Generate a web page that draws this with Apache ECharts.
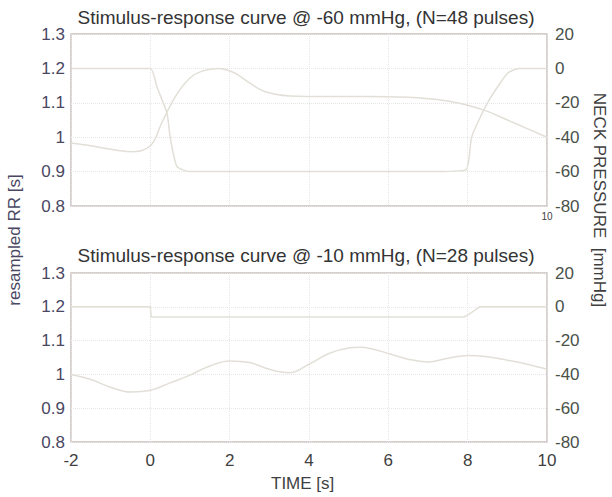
<!DOCTYPE html>
<html>
<head>
<meta charset="utf-8">
<script src="https://cdn.jsdelivr.net/npm/echarts@6/dist/echarts.min.js"></script>
<style>
  html, body { margin: 0; padding: 0; background: #fff; }
  #chart { width: 612px; height: 497px; }
</style>
</head>
<body>
<div id="chart"></div>
<script>
// data
var titles = ['Stimulus-response curve @ -60 mmHg, (N=48 pulses)',
              'Stimulus-response curve @ -10 mmHg, (N=28 pulses)'];

// top panel, -60 mmHg
var topRRTime = [-2, -1.5, -1, -0.5, 0, 0.3, 0.67, 1.0, 1.3, 1.7, 2.1, 2.5, 2.9, 3.5, 4.5, 5.5, 6.5, 7.0, 7.5, 8.0, 8.5, 9.0, 9.5, 10];
var topRR     = [0.983, 0.975, 0.965, 0.958, 0.975, 1.045, 1.125, 1.172, 1.192, 1.2, 1.188, 1.158, 1.132, 1.12, 1.118, 1.118, 1.116, 1.112, 1.105, 1.093, 1.075, 1.05, 1.025, 1.0];
var topPTime  = [-2, -1, 0, 0.17, 0.42, 0.5, 0.67, 1.0, 1.5, 4, 7.0, 7.95, 8.1, 8.5, 9.0, 9.3, 10];
var topP      = [0, 0, 0, -11, -26, -40, -57, -60, -60, -60, -60, -59, -40, -20, -3, 0, 0];

// bottom panel, -10 mmHg
var botRRTime = [-2, -1.5, -1, -0.5, 0, 0.5, 1, 1.5, 2, 2.5, 3, 3.5, 4, 4.5, 5, 5.3, 5.6, 6, 6.5, 7, 7.5, 8, 8.5, 9, 9.5, 10];
var botRR     = [1.0, 0.985, 0.962, 0.948, 0.953, 0.975, 0.998, 1.025, 1.04, 1.035, 1.015, 1.005, 1.03, 1.062, 1.078, 1.08, 1.075, 1.062, 1.045, 1.037, 1.048, 1.056, 1.052, 1.042, 1.03, 1.015];
var botPTime  = [-2, 0, 0.02, 7.9, 8.0, 8.3, 10];
var botP      = [0, 0, -6, -6, -5, 0, 0];

function pairs(xs, ys) {
    return xs.map(function (x, i) { return [x, ys[i]]; });
}

var lineColor = '#e2dfd7';
var leftColor = '#4a4763';
var rightColor = '#4a5149';
var gridLine = { show: true, lineStyle: { color: '#e6e6e6', type: 'dotted', width: 1 } };
var font = 'Liberation Sans';

function xAxisFor(idx, showLabels) {
    return {
        type: 'value', gridIndex: idx, min: -2, max: 10, interval: 2,
        axisLine: { show: false }, axisTick: { show: false },
        splitLine: gridLine,
        axisLabel: showLabels ? {
            color: '#3f3f3f', fontSize: 17, fontFamily: font, margin: 10
        } : {
            color: '#3f3f3f', fontSize: 10, fontFamily: font, margin: 5,
            formatter: function (v) { return v === 10 ? '10' : ''; }
        }
    };
}
function leftAxis(idx) {
    return {
        type: 'value', gridIndex: idx, min: 0.8, max: 1.3, interval: 0.1,
        axisLine: { show: false }, axisTick: { show: false },
        splitLine: gridLine,
        axisLabel: { color: leftColor, fontSize: 17, fontFamily: font, margin: 6,
            formatter: function (v) { return String(Math.round(v * 10) / 10); } }
    };
}
function rightAxis(idx) {
    return {
        type: 'value', gridIndex: idx, position: 'right', min: -80, max: 20, interval: 20,
        axisLine: { show: false }, axisTick: { show: false },
        splitLine: { show: false },
        axisLabel: { color: rightColor, fontSize: 17, fontFamily: font, margin: 8 }
    };
}

var chart = echarts.init(document.getElementById('chart'), null, { renderer: 'svg' });

var option = {
    backgroundColor: '#ffffff',
    animation: false,
    title: [
        { text: titles[0], left: 'center', top: 3,
          textStyle: { fontSize: 19, fontWeight: 'normal', color: '#333', fontFamily: font } },
        { text: titles[1], left: 'center', top: 241,
          textStyle: { fontSize: 19, fontWeight: 'normal', color: '#333', fontFamily: font } }
    ],
    grid: [
        { left: 71, right: 65, top: 34, height: 172, show: true, borderColor: '#c9c0bf', borderWidth: 1.5 },
        { left: 71, right: 65, top: 273, height: 169, show: true, borderColor: '#c9c0bf', borderWidth: 1.5 }
    ],
    xAxis: [xAxisFor(0, false), xAxisFor(1, true)],
    yAxis: [leftAxis(0), rightAxis(0), leftAxis(1), rightAxis(1)],
    graphic: [
        { type: 'text', left: 305 - 34, top: 475,
          style: { text: 'TIME [s]', fontSize: 17, fontFamily: font, fill: '#3f3f3f' } },
        { type: 'text', x: 6, y: 240, rotation: Math.PI / 2, origin: [0, 0],
          style: { text: 'resampled RR [s]', fontSize: 17, fontFamily: font, fill: leftColor,
                   align: 'center', verticalAlign: 'top' } },
        { type: 'text', x: 608, y: 200, rotation: -Math.PI / 2, origin: [0, 0],
          style: { text: 'NECK PRESSURE  [mmHg]', fontSize: 17, fontFamily: font, fill: '#3f3f3f',
                   align: 'center', verticalAlign: 'top' } }
    ],
    series: [
        { type: 'line', xAxisIndex: 0, yAxisIndex: 0, data: pairs(topRRTime, topRR),
          smooth: 0.4, showSymbol: false, lineStyle: { color: lineColor, width: 1.5 } },
        { type: 'line', xAxisIndex: 0, yAxisIndex: 1, data: pairs(topPTime, topP),
          smooth: 0.2, showSymbol: false, lineStyle: { color: lineColor, width: 1.5 } },
        { type: 'line', xAxisIndex: 1, yAxisIndex: 2, data: pairs(botRRTime, botRR),
          smooth: 0.4, showSymbol: false, lineStyle: { color: lineColor, width: 1.5 } },
        { type: 'line', xAxisIndex: 1, yAxisIndex: 3, data: pairs(botPTime, botP),
          showSymbol: false, lineStyle: { color: lineColor, width: 1.5 } }
    ]
};

chart.setOption(option);
</script>
</body>
</html>
